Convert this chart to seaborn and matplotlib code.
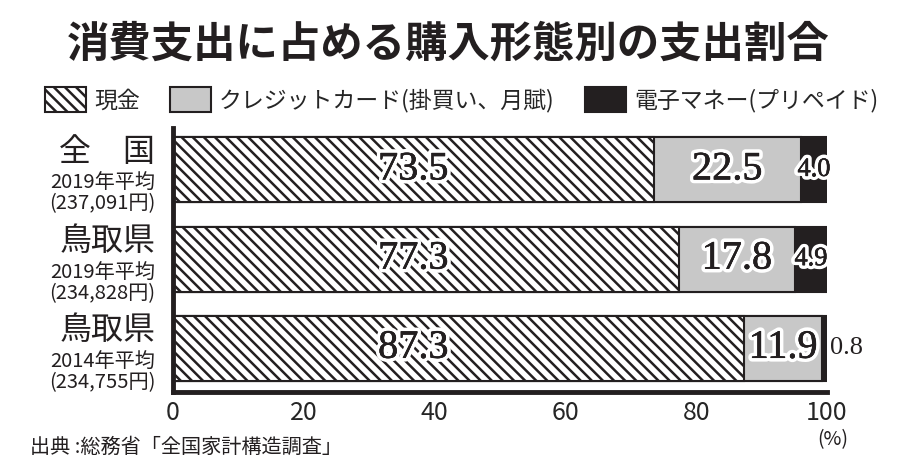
import matplotlib
matplotlib.use('Agg')
import matplotlib.pyplot as plt
import matplotlib.patheffects as pe
from matplotlib.patches import Patch
import pandas as pd
import seaborn as sns

# Data
categories = ['全国2019', '鳥取県2019', '鳥取県2014']
main_labels = ['全　国', '鳥取県', '鳥取県']
sub_labels = ['2019年平均\n(237,091円)', '2019年平均\n(234,828円)', '2014年平均\n(234,755円)']
cash = [73.5, 77.3, 87.3]
credit = [22.5, 17.8, 11.9]
emoney = [4.0, 4.9, 0.8]
series_names = ['現金', 'クレジットカード(掛買い、月賦)', '電子マネー(プリペイド)']
xticks = [0, 20, 40, 60, 80, 100]

BLACK = '#231f20'
GREY = '#c8c8c8'

sns.set_style('white')
plt.rcParams['font.family'] = ['Noto Sans CJK JP', 'DejaVu Sans']
plt.rcParams['hatch.linewidth'] = 1.8

df = pd.DataFrame({'cat': categories, 'cash': cash, 'credit': credit, 'emoney': emoney})
df['cum2'] = df['cash'] + df['credit']
df['cum3'] = df['cum2'] + df['emoney']

fig = plt.figure(figsize=(8.97, 4.72), dpi=100)
ax = fig.add_axes([173 / 897, 1 - 392 / 472, (827 - 173) / 897, (392 - 128) / 472])

# stacked bars by overlaying cumulative totals
sns.barplot(data=df, x='cum3', y='cat', orient='h', color=BLACK, width=0.73,
            edgecolor=BLACK, linewidth=1.5, saturation=1, ax=ax)
sns.barplot(data=df, x='cum2', y='cat', orient='h', color=GREY, width=0.73,
            edgecolor=BLACK, linewidth=1.5, saturation=1, ax=ax)
sns.barplot(data=df, x='cash', y='cat', orient='h', color='white', width=0.73,
            edgecolor=BLACK, linewidth=1.5, saturation=1, hatch='\\\\\\', ax=ax)

ax.set_xlim(0, 100)
ax.set_ylim(2.49, -0.47)
ax.set_xlabel('')
ax.set_ylabel('')
ax.set_yticks([])
ax.set_xticks(xticks)
ax.set_xticklabels([str(t) for t in xticks], fontsize=18)
ax.tick_params(axis='x', direction='in', length=6, width=2.5, color=BLACK, pad=6)
for s in ['top', 'right']:
    ax.spines[s].set_visible(False)
for s in ['bottom', 'left']:
    ax.spines[s].set_linewidth(3.5)
    ax.spines[s].set_color(BLACK)

# value labels
stroke = [pe.withStroke(linewidth=5.5, foreground='white'),
          pe.Stroke(linewidth=0.35, foreground=BLACK), pe.Normal()]
numfont = 'Liberation Serif'
cash_x = min(cash) / 2
for i, row in df.iterrows():
    ax.text(cash_x, i, f"{row['cash']:.1f}", ha='center', va='center', fontsize=29,
            family=numfont, color=BLACK, path_effects=stroke)
    ax.text(row['cash'] + row['credit'] / 2, i, f"{row['credit']:.1f}", ha='center', va='center',
            fontsize=29, family=numfont, color=BLACK, path_effects=stroke)
    if row['emoney'] >= 2:
        ax.text(row['cum2'] + row['emoney'] / 2, i, f"{row['emoney']:.1f}", ha='center', va='center',
                fontsize=19, family=numfont, color=BLACK, path_effects=stroke)
    else:
        ax.text(row['cum3'] + 0.4, i, f"{row['emoney']:.1f}", ha='left', va='center',
                fontsize=19, family=numfont, color=BLACK)

# category labels
for i in range(len(categories)):
    ax.text(-0.027, i - 0.2, main_labels[i], transform=ax.get_yaxis_transform(),
            ha='right', va='center', fontsize=23, color=BLACK)
    ax.text(-0.027, i + 0.27, sub_labels[i], transform=ax.get_yaxis_transform(),
            ha='right', va='center', fontsize=14.5, color=BLACK, linespacing=0.95)

# legend
handles = [Patch(facecolor='white', edgecolor=BLACK, hatch='\\\\\\', linewidth=1.5),
           Patch(facecolor=GREY, edgecolor=BLACK, linewidth=1.5),
           Patch(facecolor=BLACK, edgecolor=BLACK, linewidth=1.5)]
fig.legend(handles, series_names, loc='center left', bbox_to_anchor=(45 / 897, 1 - 100 / 472),
           ncol=3, frameon=False, fontsize=16.5, handlelength=1.8, handleheight=1.3,
           handletextpad=0.35, columnspacing=1.3, borderpad=0, borderaxespad=0)

fig.text(0.5, 1 - 45 / 472, '消費支出に占める購入形態別の支出割合', ha='center', va='center',
         fontsize=30.5, fontweight='bold', color=BLACK)
fig.text(30 / 897, 1 - 447 / 472, '出典 :総務省「全国家計構造調査」', ha='left', va='center',
         fontsize=14.5, color=BLACK)
fig.text(833 / 897, 1 - 440 / 472, '(%)', ha='center', va='center', fontsize=14, color=BLACK)

fig.savefig('out.png', dpi=100)
